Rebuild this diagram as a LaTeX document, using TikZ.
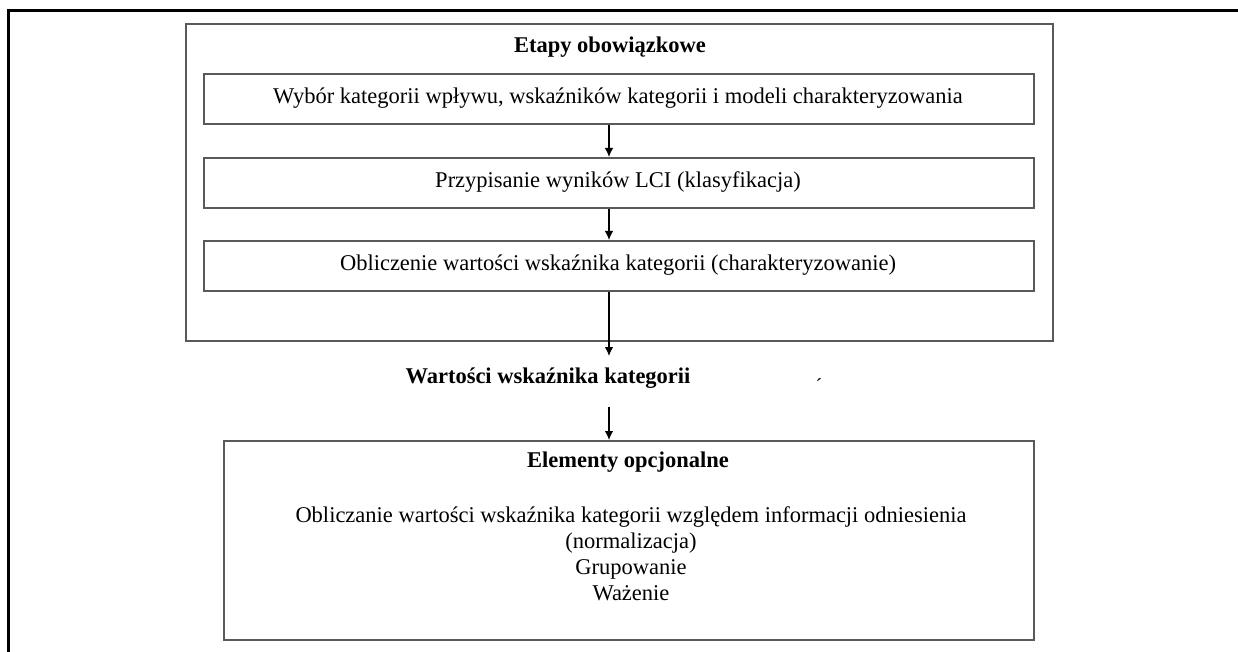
\documentclass[tikz,border=0pt]{standalone}
\usepackage{fontspec}
\setmainfont{Liberation Serif}
\usetikzlibrary{arrows.meta}
\tikzset{
  box/.style={draw=black!65, line width=1.6pt, inner sep=0pt, anchor=north west},
  txt/.style={font=\fontsize{22.5}{26}\selectfont, inner sep=0pt},
  bold/.style={font=\fontsize{22.5}{26}\selectfont\bfseries, inner sep=0pt},
  arr/.style={line width=1.2pt, -{Latex[length=9pt,width=8.5pt]}},
  frame/.style={line width=3pt, black}
}
\begin{document}
\begin{tikzpicture}[x=1pt, y=-1pt]
\useasboundingbox (0,0) rectangle (1238,652);
% page frame, open on the right and at the bottom
\draw[frame] (8,652) -- (8,11) -- (1238,11);

% mandatory stages
\node[box, minimum width=867pt, minimum height=317pt] (outer) at (185,23) {};
\node[bold] (etapy) at (610,47) {Etapy obowiązkowe};
\node[box, minimum width=830pt, minimum height=50pt] (b1) at (203,73) {};
\node[txt] (t1) at (618,98) {Wybór kategorii wpływu, wskaźników kategorii i modeli charakteryzowania};
\node[box, minimum width=830pt, minimum height=50pt] (b2) at (203,157) {};
\node[txt] (t2) at (618,182) {Przypisanie wyników LCI (klasyfikacja)};
\node[box, minimum width=830pt, minimum height=50pt] (b3) at (203,240) {};
\node[txt] (t3) at (618,265) {Obliczenie wartości wskaźnika kategorii (charakteryzowanie)};

% result
\coordinate (ax) at (609,0);
\coordinate (r1) at (609,356);
\node[bold] (wart) at (548,378) {Wartości wskaźnika kategorii};
\node[txt, font=\fontsize{20}{20}\selectfont] (mark) at (819,386) {´};
\coordinate (r2) at (609,407);

% optional elements
\node[box, minimum width=810pt, minimum height=199pt] (opt) at (223,440) {};
\node[bold] (eltitle) at (628,462) {Elementy opcjonalne};
\node[txt, align=center, anchor=north] (eltext) at (631,506) {Obliczanie wartości wskaźnika kategorii względem informacji odniesienia\\(normalizacja)\\Grupowanie\\Ważenie};

% connectors
\draw[arr] (b1.south -| ax) -- (b2.north -| ax);
\draw[arr] (b2.south -| ax) -- (b3.north -| ax);
\draw[arr] (b3.south -| ax) -- (r1);
\draw[arr] (r2) -- (opt.north -| ax);
\end{tikzpicture}
\end{document}
